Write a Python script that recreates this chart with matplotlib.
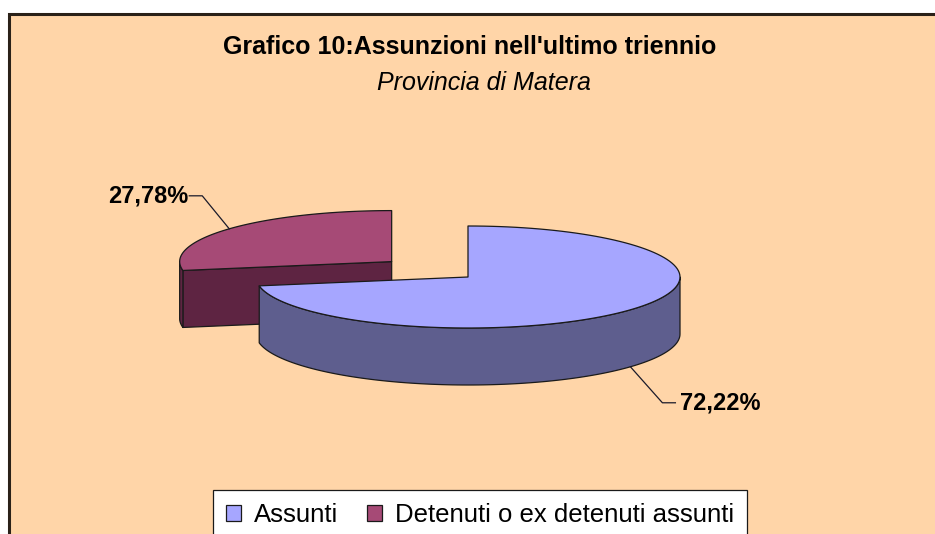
import numpy as np
import matplotlib
matplotlib.use('Agg')
import matplotlib.pyplot as plt
from matplotlib.patches import Polygon, Rectangle, Patch

# data
labels = ['Assunti', 'Detenuti o ex detenuti assunti']
values = [72.22, 27.78]
pct_text = ['72,22%', '27,78%']
explode = [0.0, 0.47]
top_colors = ['#A6A6FF', '#A64A76']
side_colors = ['#5E5E8E', '#5E2442']

title = "Grafico 10:Assunzioni nell'ultimo triennio"
subtitle = 'Provincia di Matera'

plt.rcParams['font.family'] = ['Liberation Sans', 'DejaVu Sans']

W, H = 935, 534
fig = plt.figure(figsize=(W / 100, H / 100), dpi=100)
ax = fig.add_axes([0, 0, 1, 1])
ax.set_xlim(0, W)
ax.set_ylim(H, 0)
ax.axis('off')

# chart area
ax.add_patch(Rectangle((9, 14), W, H, facecolor='#FFD5A8', edgecolor='#2a2118', lw=2.2, zorder=0))

# pie geometry (pixel layout)
cx, cy = 468, 277
R, r = 212, 51
depth = 57


def pt(c, a, dz=0.0):
    t = np.radians(a)
    return np.array([c[0] + R * np.sin(t), c[1] - r * np.cos(t) + dz])


def arc(c, a0, a1, dz=0.0, n=120):
    aa = np.linspace(a0, a1, n)
    return np.array([pt(c, a, dz) for a in aa])


fracs = np.array(values) / np.sum(values)
bounds = np.concatenate([[0], np.cumsum(fracs) * 360])
centers = []
for i in range(len(values)):
    mid = (bounds[i] + bounds[i + 1]) / 2
    t = np.radians(mid)
    centers.append(np.array([cx + explode[i] * R * np.sin(t), cy - explode[i] * r * np.cos(t)]))

edge_kw = dict(edgecolor='#1a1a1a', lw=0.9, joinstyle='round')

# draw back slice (exploded) first, then the front one
for i in reversed(range(len(values))):
    a0, a1 = bounds[i], bounds[i + 1]
    c = centers[i]
    z = 2 + 3 * (1 - i)
    # radial face at start angle
    if np.cos(np.radians(a0 - 90)) < -1e-6:
        p = pt(c, a0)
        face = np.array([c, p, p + [0, depth], c + [0, depth]])
        ax.add_patch(Polygon(face, facecolor=side_colors[i], zorder=z, **edge_kw))
    # radial face at end angle
    if np.cos(np.radians(a1 + 90)) < -1e-6:
        p = pt(c, a1)
        face = np.array([c, p, p + [0, depth], c + [0, depth]])
        ax.add_patch(Polygon(face, facecolor=side_colors[i], zorder=z, **edge_kw))
    # outer curved side (front half only)
    s0, s1 = max(a0, 90), min(a1, 270)
    if s1 > s0:
        upper = arc(c, s0, s1)
        lower = arc(c, s0, s1, depth)[::-1]
        ax.add_patch(Polygon(np.vstack([upper, lower]), facecolor=side_colors[i],
                             zorder=z + 1, **edge_kw))
    # top
    top = np.vstack([c, arc(c, a0, a1)])
    ax.add_patch(Polygon(top, facecolor=top_colors[i], zorder=z + 2, **edge_kw))

# percentage labels with leader lines
for i in range(len(values)):
    mid = (bounds[i] + bounds[i + 1]) / 2
    c = centers[i]
    if np.cos(np.radians(mid)) < 0:
        anc = pt(c, mid, depth)
        elbow = anc + [32, 36]
        end = anc + [45, 36]
        ha = 'left'
        tx = anc + [50, 36]
    else:
        anc = pt(c, mid)
        elbow = anc + [-27, -33]
        end = anc + [-40, -33]
        ha = 'right'
        tx = anc + [-41, -33]
    ax.plot([anc[0], elbow[0], end[0]], [anc[1], elbow[1], end[1]], color='#1a1a2a', lw=0.9, zorder=10)
    ax.text(tx[0], tx[1], pct_text[i], ha=ha, va='center', fontsize=17, fontweight='bold', zorder=10)

# titles
ax.text(470, 47, title, ha='center', va='center', fontsize=18, fontweight='bold')
ax.text(484, 83, subtitle, ha='center', va='center', fontsize=18, style='italic')

# legend
handles = [Patch(facecolor=top_colors[i], edgecolor='#1a1a1a', lw=0.9) for i in range(len(values))]
leg = ax.legend(handles, labels, ncol=2, loc='upper center', bbox_to_anchor=(480 / W, 1 - 490 / H),
                bbox_transform=ax.transAxes, frameon=True, fancybox=False, fontsize=18.5,
                handlelength=0.6, handleheight=0.6, handletextpad=0.5, columnspacing=1.1,
                borderpad=0.5, borderaxespad=0)
leg.get_frame().set_edgecolor('#1a1a1a')
leg.get_frame().set_linewidth(0.9)
leg.get_frame().set_facecolor('white')
leg.get_frame().set_alpha(1)

fig.savefig('out.png', dpi=100)
